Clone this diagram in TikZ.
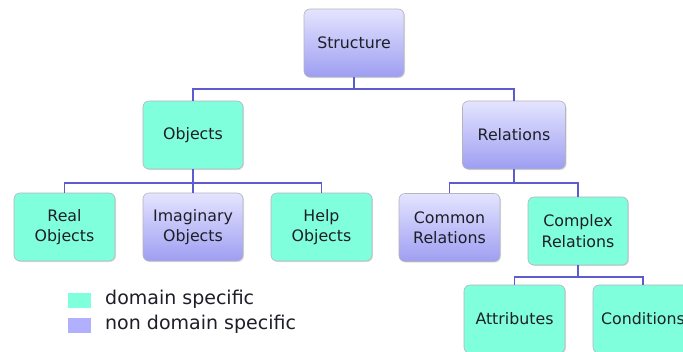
\documentclass[tikz,border=0pt]{standalone}
\usepackage{fontspec}
\setmainfont{DejaVu Sans}
\usetikzlibrary{shadows}
\definecolor{domaingreen}{HTML}{80FFDC}
\definecolor{ndtop}{HTML}{E4E4FF}
\definecolor{ndbottom}{HTML}{9E9EF2}
\definecolor{ndlegend}{HTML}{B0B0FF}
\definecolor{boxline}{HTML}{B4B4BE}
\definecolor{linkcol}{HTML}{5C5CD0}
\definecolor{txt}{HTML}{1E1E28}
\tikzset{
  box/.style={draw=boxline, line width=0.6pt, rounded corners=6pt,
    minimum width=100pt, minimum height=68pt, align=center,
    text=txt, font=\fontsize{15.8}{20.5}\selectfont,
    drop shadow={shadow xshift=1pt, shadow yshift=-1pt, opacity=0.25}},
  dombox/.style={box, fill=domaingreen},
  ndbox/.style={box, top color=ndtop, bottom color=ndbottom},
  link/.style={draw=linkcol, line width=1.9pt},
  legsq/.style={minimum width=23pt, minimum height=15pt, inner sep=0pt},
  legtxt/.style={anchor=west, inner sep=0pt, text=txt,
    font=\fontsize{19}{22}\selectfont}
}
\begin{document}
\begin{tikzpicture}[x=1pt, y=-1pt]
  \useasboundingbox (0,0) rectangle (683,351);
  \fill[white] (0,0) rectangle (683,351);
  \clip (0,0) rectangle (683,351);

  % top level
  \node[ndbox] (st) at (354,43) {Structure};

  % second level
  \node[dombox] (ob) at (193,135) {Objects};
  \node[ndbox, minimum width=103pt] (re) at (514,135) {Relations};

  % objects
  \node[dombox, minimum width=101pt] (ro) at (64.5,227) {Real\\Objects};
  \node[ndbox] (io) at (193,227) {Imaginary\\Objects};
  \node[dombox, minimum width=101pt] (ho) at (321.5,227) {Help\\Objects};

  % relations
  \node[ndbox, minimum width=101pt] (cr) at (449.5,227.5) {Common\\Relations};
  \node[dombox] (cx) at (578,231) {Complex\\Relations};

  % complex relations
  \node[dombox, minimum width=101pt] (at) at (514.5,319) {Attributes};
  \node[dombox] (co) at (643,319) {Conditions};

  % connectors
  \draw[link] (st.south) -- ++(0,12) -| (ob.north);
  \draw[link] (st.south) -- ++(0,12) -| (re.north);
  \draw[link] (ob.south) -- ++(0,14) -| (ro.north);
  \draw[link] (ob.south) -- ++(0,14) -| (io.north);
  \draw[link] (ob.south) -- ++(0,14) -| (ho.north);
  \draw[link] (re.south) -- ++(0,14) -| (cr.north);
  \draw[link] (re.south) -- ++(0,14) -| (cx.north);
  \draw[link] (cx.south) -- ++(0,12) -| (at.north);
  \draw[link] (cx.south) -- ++(0,12) -| (co.north);

  % legend
  \node[legsq, fill=domaingreen] (lg1) at (79.5,300.5) {};
  \node[legsq, fill=ndlegend] (lg2) at (79.5,325.5) {};
  \node[legtxt] (lt1) at (105,299) {domain specific};
  \node[legtxt] (lt2) at (105,324.5) {non domain specific};
\end{tikzpicture}
\end{document}
